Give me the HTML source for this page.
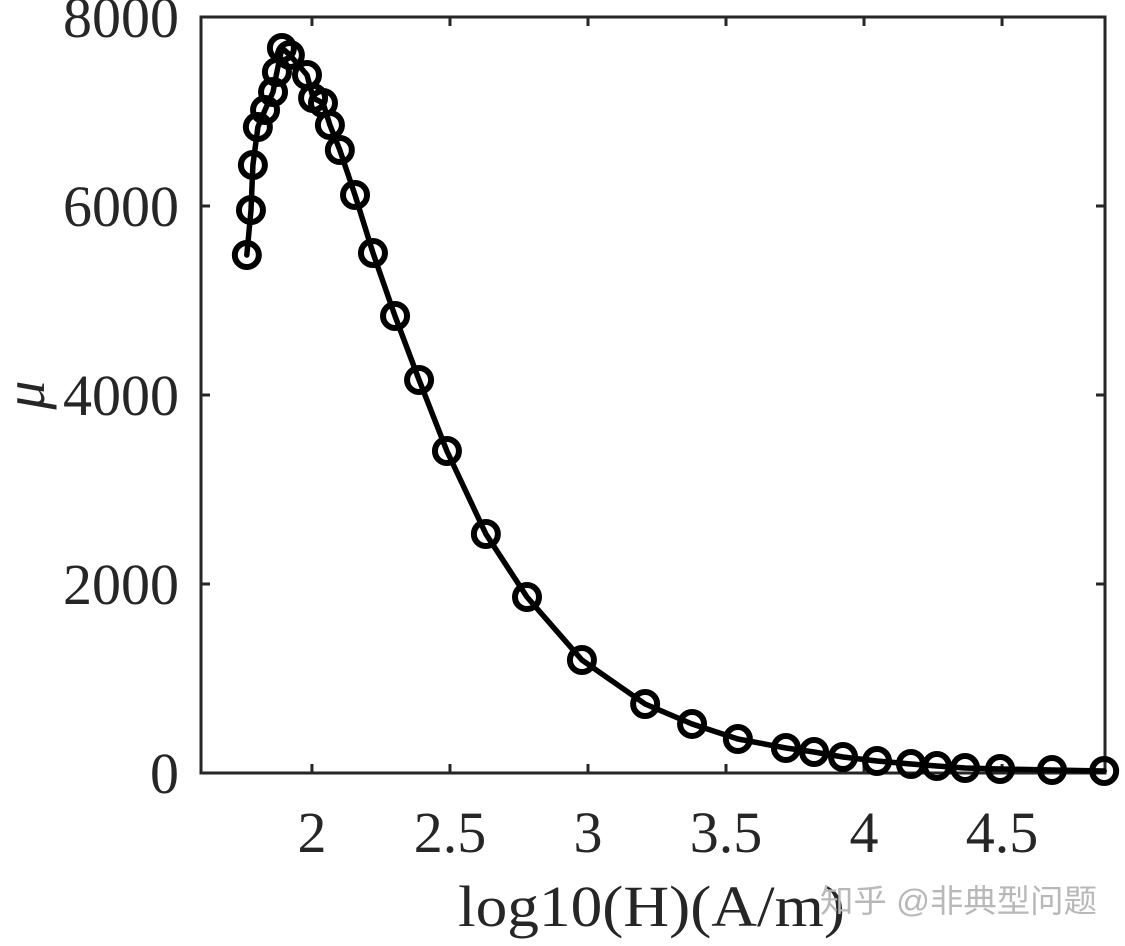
<!DOCTYPE html>
<html><head><meta charset="utf-8"><style>
html,body{margin:0;padding:0;background:#fff;}
svg{display:block;font-family:"Liberation Serif",serif;}
</style></head><body>
<svg id="chart" width="1125" height="946" viewBox="0 0 1125 946" xmlns="http://www.w3.org/2000/svg">
<g id="axes"></g>
<g id="series"></g>
<text x="458" y="926" font-size="58" textLength="387" lengthAdjust="spacingAndGlyphs" fill="#262626">log10(H)(A/m)</text>
<text transform="translate(44,395) rotate(-90)" font-size="58" font-style="italic" text-anchor="middle" fill="#262626">μ</text>
<text x="820" y="912" font-size="32" textLength="277" lengthAdjust="spacingAndGlyphs" fill="#b8b8b8" style="font-family:'Liberation Sans','Noto Sans CJK SC',sans-serif">知乎 @非典型问题</text>
</svg>
<script>
const xData = [1.764,1.779,1.786,1.804,1.830,1.859,1.873,1.891,1.920,1.982,2.004,2.040,2.065,2.101,2.156,2.221,2.301,2.388,2.489,2.630,2.779,2.978,3.207,3.377,3.543,3.717,3.819,3.924,4.047,4.170,4.264,4.366,4.493,4.681,4.870];
const yData = [5481,5957,6434,6836,7016,7206,7418,7672,7598,7386,7143,7090,6857,6593,6116,5503,4836,4159,3407,2529,1862,1196,730,519,360,265,222,169,127,95,74,53,42,32,21];
const xTicks = [2,2.5,3,3.5,4,4.5];
const xTickLabels = ["2","2.5","3","3.5","4","4.5"];
const yTicks = [0,2000,4000,6000,8000];
const yTickLabels = ["0","2000","4000","6000","8000"];

const L=201,R=1105,T=17,B=773;
const xMin=1.598,xMax=4.873,yMin=0,yMax=8000;
const sx=v=>L+(v-xMin)/(xMax-xMin)*(R-L);
const sy=v=>B-(v-yMin)/(yMax-yMin)*(B-T);
const NS="http://www.w3.org/2000/svg";
const axes=document.getElementById('axes'), series=document.getElementById('series');
function mk(tag,attrs,parent){const e=document.createElementNS(NS,tag);for(const k in attrs)e.setAttribute(k,attrs[k]);parent.appendChild(e);return e;}

const box=mk('rect',{x:L,y:T,width:R-L,height:B-T,fill:'none',stroke:'#262626','stroke-width':3},axes);



xTicks.forEach((t,i)=>{
  const x=sx(t);
  const a=mk('line',{x1:x,x2:x,y1:B,y2:B-9,stroke:'#262626','stroke-width':3},axes);
  
  
  const b=mk('line',{x1:x,x2:x,y1:T,y2:T+9,stroke:'#262626','stroke-width':3},axes);
  
  
  const tx=mk('text',{x:x,y:852,'font-size':58,'text-anchor':'middle',fill:'#262626'},axes);
  tx.textContent=xTickLabels[i];
  
  
});
yTicks.forEach((t,i)=>{
  const y=sy(t);
  const a=mk('line',{x1:L,x2:L+9,y1:y,y2:y,stroke:'#262626','stroke-width':3},axes);
  
  
  const b=mk('line',{x1:R,x2:R-9,y1:y,y2:y,stroke:'#262626','stroke-width':3},axes);
  
  
  const tx=mk('text',{x:179,y:y+20,'font-size':58,'text-anchor':'end',fill:'#262626'},axes);
  tx.textContent=yTickLabels[i];
  
  
});

const pts=xData.map((x,i)=>sx(x).toFixed(1)+','+sy(yData[i]).toFixed(1)).join(' ');
const line=mk('polyline',{points:pts,fill:'none',stroke:'#000','stroke-width':5.5,'stroke-linejoin':'round','stroke-linecap':'round'},series);


xData.forEach((x,i)=>{
  const c=mk('circle',{cx:sx(x),cy:sy(yData[i]),r:12,fill:'none',stroke:'#000','stroke-width':6},series);
  
  
});
</script>
</body></html>
